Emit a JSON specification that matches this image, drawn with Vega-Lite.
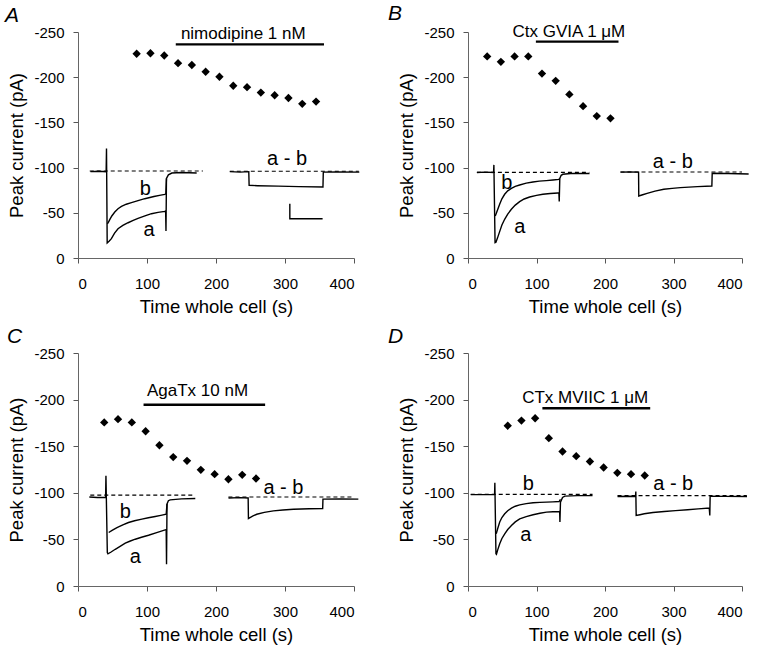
{
  "$schema": "https://vega.github.io/schema/vega-lite/v6.json",
  "background": "white",
  "padding": {"left": 5, "top": 2, "right": 5, "bottom": 2},
  "columns": 2,
  "spacing": {"row": 95, "column": 114},
  "bounds": "flush",
  "align": "each",
  "config": {
    "view": {"stroke": null},
    "font": "Liberation Sans",
    "axis": {"grid": false, "domainColor": "#666", "tickColor": "#555", "domainWidth": 1, "tickWidth": 1,
      "labelFont": "Liberation Sans", "labelFontSize": 15, "labelColor": "#000",
      "titleFont": "Liberation Sans", "titleFontSize": 18.5, "titleFontWeight": "normal", "titleColor": "#000"},
    "axisX": {"tickSize": 5, "labelPadding": 13, "titlePadding": 6},
    "axisY": {"tickSize": 5, "labelPadding": 9, "titlePadding": 7},
    "title": {"font": "Liberation Sans", "fontSize": 21, "fontStyle": "italic", "fontWeight": "normal", "anchor": "start", "frame": "group", "color": "#000", "offset": -1},
    "text": {"font": "Liberation Sans", "color": "#000"}
  },
  "concat": [
    {
      "width": 276, "height": 226,
      "title": {"text": "A", "dx": -73},
      "encoding": {
        "x": {"field": "t", "type": "quantitative", "scale": {"domain": [0, 400], "nice": false}, "axis": {"title": "Time whole cell (s)", "values": [0, 100, 200, 300, 400]}},
        "y": {"field": "I", "type": "quantitative", "scale": {"domain": [-250, 0], "reverse": true, "nice": false}, "axis": {"title": "Peak current (pA)", "values": [-250, -200, -150, -100, -50, 0], "labelExpr": "'' + datum.value"}}
      },
      "layer": [
        {"data": {"values": [
          {"t": 17, "I": -96.2, "s": "d1"}, {"t": 181, "I": -96.2, "s": "d1"},
          {"t": 220, "I": -96, "s": "d2"}, {"t": 407, "I": -96, "s": "d2"}]},
         "mark": {"type": "line", "color": "#000", "strokeWidth": 1.1, "strokeDash": [4, 3]},
         "encoding": {"detail": {"field": "s"}, "order": {"value": null}}},
        {"data": {"values": [
          {"s": "a", "t": 18, "I": -95.5}, {"s": "a", "t": 30, "I": -96}, {"s": "a", "t": 40.8, "I": -95.5}, {"s": "a", "t": 41.3, "I": -121}, {"s": "a", "t": 42.3, "I": -16.6}, {"s": "a", "t": 45, "I": -18.5}, {"s": "a", "t": 48.4, "I": -21.4}, {"s": "a", "t": 53, "I": -27.5}, {"s": "a", "t": 58, "I": -32.4}, {"s": "a", "t": 65, "I": -36}, {"s": "a", "t": 72.6, "I": -39}, {"s": "a", "t": 80, "I": -41.5}, {"s": "a", "t": 87, "I": -43.8}, {"s": "a", "t": 97, "I": -46.5}, {"s": "a", "t": 106.5, "I": -49}, {"s": "a", "t": 116, "I": -50.5}, {"s": "a", "t": 125.8, "I": -51.5}, {"s": "a", "t": 127, "I": -52}, {"s": "a", "t": 127.5, "I": -29.9}, {"s": "a", "t": 128.2, "I": -88}, {"s": "a", "t": 131, "I": -92}, {"s": "a", "t": 136, "I": -94}, {"s": "a", "t": 150, "I": -94.5}, {"s": "a", "t": 172, "I": -94},
          {"s": "b", "t": 42.5, "I": -37.9}, {"s": "b", "t": 44, "I": -39.5}, {"s": "b", "t": 46, "I": -42.4}, {"s": "b", "t": 49, "I": -46.5}, {"s": "b", "t": 53.3, "I": -50.9}, {"s": "b", "t": 58, "I": -54.5}, {"s": "b", "t": 63, "I": -57}, {"s": "b", "t": 70, "I": -59.5}, {"s": "b", "t": 77.5, "I": -61.2}, {"s": "b", "t": 87, "I": -63.5}, {"s": "b", "t": 96.8, "I": -65.6}, {"s": "b", "t": 110, "I": -68}, {"s": "b", "t": 120, "I": -69.5}, {"s": "b", "t": 125.8, "I": -70.4}, {"s": "b", "t": 127.3, "I": -71}, {"s": "b", "t": 128.2, "I": -88},
          {"s": "ab", "t": 220, "I": -95.5}, {"s": "ab", "t": 235, "I": -95}, {"s": "ab", "t": 247.5, "I": -95.5}, {"s": "ab", "t": 248, "I": -80.4}, {"s": "ab", "t": 260, "I": -80}, {"s": "ab", "t": 290, "I": -79.5}, {"s": "ab", "t": 320, "I": -79}, {"s": "ab", "t": 355, "I": -78.5}, {"s": "ab", "t": 355.5, "I": -95}, {"s": "ab", "t": 375, "I": -95.3}, {"s": "ab", "t": 407.7, "I": -95},
          {"s": "scale", "t": 307, "I": -60}, {"s": "scale", "t": 307, "I": -43.5}, {"s": "scale", "t": 354.5, "I": -43.5}]},
         "mark": {"type": "line", "color": "#000", "strokeWidth": 1.4},
         "encoding": {"detail": {"field": "s"}, "order": {"value": null}}},
        {"data": {"values": [{"t": 141.7, "t2": 356.5, "I": -236.4}]},
         "mark": {"type": "rule", "color": "#000", "strokeWidth": 2.3},
         "encoding": {"x2": {"field": "t2"}}},
        {"data": {"values": [
          {"t": 85, "I": -226}, {"t": 105, "I": -226.5}, {"t": 125, "I": -224}, {"t": 145, "I": -215.5}, {"t": 165, "I": -213.5}, {"t": 185, "I": -206}, {"t": 205, "I": -200.5}, {"t": 225, "I": -190.5}, {"t": 245, "I": -189}, {"t": 265, "I": -183}, {"t": 285, "I": -180}, {"t": 305, "I": -177}, {"t": 325, "I": -170.5}, {"t": 345, "I": -173}]},
         "mark": {"type": "point", "shape": "diamond", "filled": true, "size": 70, "color": "#000", "opacity": 1}},
        {"data": {"values": [{"t": 97.7, "I": -69.3, "txt": "b"}, {"t": 103, "I": -24.3, "txt": "a"}, {"t": 303, "I": -102.5, "txt": "a - b"}]},
         "mark": {"type": "text", "fontSize": 20, "align": "center", "baseline": "alphabetic"},
         "encoding": {"text": {"field": "txt"}}},
        {"data": {"values": [{"t": 239.5, "I": -242, "txt": "nimodipine 1 nM"}]},
         "mark": {"type": "text", "fontSize": 17, "align": "center", "baseline": "alphabetic"},
         "encoding": {"text": {"field": "txt"}}}
      ]
    },
    {
      "width": 274, "height": 226,
      "title": {"text": "B", "dx": -80},
      "encoding": {
        "x": {"field": "t", "type": "quantitative", "scale": {"domain": [0, 400], "nice": false}, "axis": {"title": "Time whole cell (s)", "values": [0, 100, 200, 300, 400]}},
        "y": {"field": "I", "type": "quantitative", "scale": {"domain": [-250, 0], "reverse": true, "nice": false}, "axis": {"title": "Peak current (pA)", "values": [-250, -200, -150, -100, -50, 0], "labelExpr": "'' + datum.value"}}
      },
      "layer": [
        {"data": {"values": [
          {"t": 13, "I": -94.7, "s": "d1"}, {"t": 177, "I": -94.7, "s": "d1"},
          {"t": 222.6, "I": -95.1, "s": "d2"}, {"t": 400, "I": -95.1, "s": "d2"}]},
         "mark": {"type": "line", "color": "#000", "strokeWidth": 1.1, "strokeDash": [4, 3]},
         "encoding": {"detail": {"field": "s"}, "order": {"value": null}}},
        {"data": {"values": [
          {"s": "a", "t": 13, "I": -94.5}, {"s": "a", "t": 25, "I": -95}, {"s": "a", "t": 37.3, "I": -94.5}, {"s": "a", "t": 37.8, "I": -103}, {"s": "a", "t": 39.5, "I": -17}, {"s": "a", "t": 40.8, "I": -17.5}, {"s": "a", "t": 43, "I": -22}, {"s": "a", "t": 46.2, "I": -29.2}, {"s": "a", "t": 49.5, "I": -36.5}, {"s": "a", "t": 53.5, "I": -42.8}, {"s": "a", "t": 58, "I": -48.5}, {"s": "a", "t": 63.3, "I": -53.9}, {"s": "a", "t": 69, "I": -58.5}, {"s": "a", "t": 75.4, "I": -62.4}, {"s": "a", "t": 82, "I": -65.3}, {"s": "a", "t": 90, "I": -67.5}, {"s": "a", "t": 100, "I": -69.3}, {"s": "a", "t": 109.3, "I": -70.5}, {"s": "a", "t": 120, "I": -71.3}, {"s": "a", "t": 131.2, "I": -71.9}, {"s": "a", "t": 132.7, "I": -72}, {"s": "a", "t": 133.2, "I": -62.4}, {"s": "a", "t": 134, "I": -88}, {"s": "a", "t": 136, "I": -91.5}, {"s": "a", "t": 138.5, "I": -92.6}, {"s": "a", "t": 150, "I": -93.5}, {"s": "a", "t": 165, "I": -93.5}, {"s": "a", "t": 177.4, "I": -93.5},
          {"s": "b", "t": 39.8, "I": -46.5}, {"s": "b", "t": 42, "I": -51}, {"s": "b", "t": 46.2, "I": -59.4}, {"s": "b", "t": 49.5, "I": -65.5}, {"s": "b", "t": 53.5, "I": -70.5}, {"s": "b", "t": 58, "I": -74.3}, {"s": "b", "t": 63.3, "I": -77.1}, {"s": "b", "t": 69, "I": -79.3}, {"s": "b", "t": 75.4, "I": -80.8}, {"s": "b", "t": 85, "I": -82.8}, {"s": "b", "t": 94.8, "I": -84.1}, {"s": "b", "t": 104, "I": -85}, {"s": "b", "t": 114.3, "I": -85.6}, {"s": "b", "t": 124, "I": -86.3}, {"s": "b", "t": 132.7, "I": -87}, {"s": "b", "t": 134, "I": -88},
          {"s": "ab", "t": 222.6, "I": -95}, {"s": "ab", "t": 235, "I": -95.3}, {"s": "ab", "t": 249, "I": -95}, {"s": "ab", "t": 249.3, "I": -68.6}, {"s": "ab", "t": 255, "I": -70}, {"s": "ab", "t": 261.5, "I": -71.5}, {"s": "ab", "t": 273, "I": -74}, {"s": "ab", "t": 285.8, "I": -76}, {"s": "ab", "t": 298, "I": -77}, {"s": "ab", "t": 310, "I": -77.8}, {"s": "ab", "t": 335, "I": -79}, {"s": "ab", "t": 356, "I": -79.6}, {"s": "ab", "t": 356.5, "I": -93.7}, {"s": "ab", "t": 380, "I": -93.5}, {"s": "ab", "t": 409.7, "I": -93}]},
         "mark": {"type": "line", "color": "#000", "strokeWidth": 1.4},
         "encoding": {"detail": {"field": "s"}, "order": {"value": null}}},
        {"data": {"values": [{"t": 99.1, "t2": 219.7, "I": -239.3}]},
         "mark": {"type": "rule", "color": "#000", "strokeWidth": 2.3},
         "encoding": {"x2": {"field": "t2"}}},
        {"data": {"values": [
          {"t": 28, "I": -223}, {"t": 48, "I": -217}, {"t": 68, "I": -223}, {"t": 88, "I": -223}, {"t": 108, "I": -204}, {"t": 128, "I": -196}, {"t": 148, "I": -181}, {"t": 168, "I": -168}, {"t": 188, "I": -157}, {"t": 208, "I": -154.5}]},
         "mark": {"type": "point", "shape": "diamond", "filled": true, "size": 70, "color": "#000", "opacity": 1}},
        {"data": {"values": [{"t": 56.6, "I": -76, "txt": "b"}, {"t": 75.8, "I": -28, "txt": "a"}, {"t": 298.9, "I": -99.9, "txt": "a - b"}]},
         "mark": {"type": "text", "fontSize": 20, "align": "center", "baseline": "alphabetic"},
         "encoding": {"text": {"field": "txt"}}},
        {"data": {"values": [{"t": 147.3, "I": -244.8, "txt": "Ctx GVIA 1 μM"}]},
         "mark": {"type": "text", "fontSize": 17, "align": "center", "baseline": "alphabetic"},
         "encoding": {"text": {"field": "txt"}}}
      ]
    },
    {
      "width": 276, "height": 233,
      "title": {"text": "C", "dx": -71},
      "encoding": {
        "x": {"field": "t", "type": "quantitative", "scale": {"domain": [0, 400], "nice": false}, "axis": {"title": "Time whole cell (s)", "values": [0, 100, 200, 300, 400]}},
        "y": {"field": "I", "type": "quantitative", "scale": {"domain": [-250, 0], "reverse": true, "nice": false}, "axis": {"title": "Peak current (pA)", "values": [-250, -200, -150, -100, -50, 0], "labelExpr": "'' + datum.value"}}
      },
      "layer": [
        {"data": {"values": [
          {"t": 17.8, "I": -97.5, "s": "d1"}, {"t": 170, "I": -97.5, "s": "d1"},
          {"t": 218, "I": -95.5, "s": "d2"}, {"t": 400, "I": -95.5, "s": "d2"}]},
         "mark": {"type": "line", "color": "#000", "strokeWidth": 1.1, "strokeDash": [4, 3]},
         "encoding": {"detail": {"field": "s"}, "order": {"value": null}}},
        {"data": {"values": [
          {"s": "a", "t": 16.4, "I": -95.5}, {"s": "a", "t": 28, "I": -95}, {"s": "a", "t": 40, "I": -95}, {"s": "a", "t": 40.5, "I": -118.2}, {"s": "a", "t": 42.5, "I": -35.9}, {"s": "a", "t": 43.4, "I": -34.5}, {"s": "a", "t": 48, "I": -36.5}, {"s": "a", "t": 54, "I": -39.4}, {"s": "a", "t": 61, "I": -42.5}, {"s": "a", "t": 68.5, "I": -45.9}, {"s": "a", "t": 75, "I": -48}, {"s": "a", "t": 83, "I": -50.2}, {"s": "a", "t": 92, "I": -52.3}, {"s": "a", "t": 102.2, "I": -54.5}, {"s": "a", "t": 114, "I": -57.3}, {"s": "a", "t": 126.4, "I": -60.2}, {"s": "a", "t": 127.8, "I": -60.5}, {"s": "a", "t": 128.3, "I": -23.3}, {"s": "a", "t": 129, "I": -88}, {"s": "a", "t": 131, "I": -91.5}, {"s": "a", "t": 133.6, "I": -92.4}, {"s": "a", "t": 150, "I": -93.5}, {"s": "a", "t": 170, "I": -93.9},
          {"s": "b", "t": 44.5, "I": -57.4}, {"s": "b", "t": 50, "I": -60}, {"s": "b", "t": 56.5, "I": -62.7}, {"s": "b", "t": 65, "I": -65.6}, {"s": "b", "t": 73.2, "I": -68.1}, {"s": "b", "t": 82, "I": -70}, {"s": "b", "t": 92.6, "I": -71.7}, {"s": "b", "t": 102, "I": -73.2}, {"s": "b", "t": 111.9, "I": -74.6}, {"s": "b", "t": 120, "I": -75.8}, {"s": "b", "t": 127.8, "I": -77}, {"s": "b", "t": 129, "I": -88},
          {"s": "ab", "t": 218.1, "I": -94.5}, {"s": "ab", "t": 235, "I": -94.8}, {"s": "ab", "t": 246.6, "I": -94.5}, {"s": "ab", "t": 247, "I": -72.4}, {"s": "ab", "t": 253, "I": -75}, {"s": "ab", "t": 259.1, "I": -77}, {"s": "ab", "t": 270, "I": -79}, {"s": "ab", "t": 283.2, "I": -80.6}, {"s": "ab", "t": 297, "I": -81.6}, {"s": "ab", "t": 312.2, "I": -82.4}, {"s": "ab", "t": 335, "I": -82.9}, {"s": "ab", "t": 354.6, "I": -83.2}, {"s": "ab", "t": 355, "I": -93.2}, {"s": "ab", "t": 380, "I": -93.5}, {"s": "ab", "t": 406.3, "I": -93.2}]},
         "mark": {"type": "line", "color": "#000", "strokeWidth": 1.4},
         "encoding": {"detail": {"field": "s"}, "order": {"value": null}}},
        {"data": {"values": [{"t": 95, "t2": 271.2, "I": -194.5}]},
         "mark": {"type": "rule", "color": "#000", "strokeWidth": 2.3},
         "encoding": {"x2": {"field": "t2"}}},
        {"data": {"values": [
          {"t": 38, "I": -175.5}, {"t": 58, "I": -179}, {"t": 78, "I": -175.5}, {"t": 98, "I": -166}, {"t": 118, "I": -151}, {"t": 138, "I": -138.3}, {"t": 158, "I": -134.3}, {"t": 178, "I": -124.6}, {"t": 198, "I": -120}, {"t": 218, "I": -114.6}, {"t": 238, "I": -119.3}, {"t": 258, "I": -115.3}]},
         "mark": {"type": "point", "shape": "diamond", "filled": true, "size": 70, "color": "#000", "opacity": 1}},
        {"data": {"values": [{"t": 68.5, "I": -73.4, "txt": "b"}, {"t": 83, "I": -25, "txt": "a"}, {"t": 297.7, "I": -98.5, "txt": "a - b"}]},
         "mark": {"type": "text", "fontSize": 20, "align": "center", "baseline": "alphabetic"},
         "encoding": {"text": {"field": "txt"}}},
        {"data": {"values": [{"t": 173.2, "I": -203.4, "txt": "AgaTx 10 nM"}]},
         "mark": {"type": "text", "fontSize": 17, "align": "center", "baseline": "alphabetic"},
         "encoding": {"text": {"field": "txt"}}}
      ]
    },
    {
      "width": 274, "height": 233,
      "title": {"text": "D", "dx": -80},
      "encoding": {
        "x": {"field": "t", "type": "quantitative", "scale": {"domain": [0, 400], "nice": false}, "axis": {"title": "Time whole cell (s)", "values": [0, 100, 200, 300, 400]}},
        "y": {"field": "I", "type": "quantitative", "scale": {"domain": [-250, 0], "reverse": true, "nice": false}, "axis": {"title": "Peak current (pA)", "values": [-250, -200, -150, -100, -50, 0], "labelExpr": "'' + datum.value"}}
      },
      "layer": [
        {"data": {"values": [
          {"t": 4, "I": -98.3, "s": "d1"}, {"t": 181.8, "I": -98.3, "s": "d1"},
          {"t": 218.3, "I": -97, "s": "d2"}, {"t": 407, "I": -97, "s": "d2"}]},
         "mark": {"type": "line", "color": "#000", "strokeWidth": 1.1, "strokeDash": [4, 3]},
         "encoding": {"detail": {"field": "s"}, "order": {"value": null}}},
        {"data": {"values": [
          {"s": "a", "t": 4, "I": -98}, {"s": "a", "t": 20, "I": -98}, {"s": "a", "t": 38.8, "I": -98}, {"s": "a", "t": 39.2, "I": -110.7}, {"s": "a", "t": 40.8, "I": -34.6}, {"s": "a", "t": 41.5, "I": -34}, {"s": "a", "t": 43.5, "I": -39}, {"s": "a", "t": 46.3, "I": -45.3}, {"s": "a", "t": 49.5, "I": -51}, {"s": "a", "t": 53.6, "I": -56}, {"s": "a", "t": 58, "I": -60.6}, {"s": "a", "t": 63.4, "I": -64.9}, {"s": "a", "t": 69, "I": -68.8}, {"s": "a", "t": 75.5, "I": -72.1}, {"s": "a", "t": 85, "I": -74.5}, {"s": "a", "t": 95, "I": -76.4}, {"s": "a", "t": 105, "I": -78}, {"s": "a", "t": 114.6, "I": -79.3}, {"s": "a", "t": 124, "I": -79.7}, {"s": "a", "t": 133, "I": -79.9}, {"s": "a", "t": 133.8, "I": -80}, {"s": "a", "t": 134.2, "I": -68.6}, {"s": "a", "t": 135, "I": -90}, {"s": "a", "t": 138, "I": -95}, {"s": "a", "t": 141.3, "I": -96.4}, {"s": "a", "t": 160, "I": -97}, {"s": "a", "t": 181.8, "I": -97},
          {"s": "b", "t": 41.2, "I": -56}, {"s": "b", "t": 43.5, "I": -62}, {"s": "b", "t": 46.3, "I": -68.6}, {"s": "b", "t": 49.5, "I": -73.5}, {"s": "b", "t": 53.6, "I": -77.5}, {"s": "b", "t": 58, "I": -80.8}, {"s": "b", "t": 63.4, "I": -83.6}, {"s": "b", "t": 69, "I": -85.6}, {"s": "b", "t": 75.5, "I": -87.1}, {"s": "b", "t": 85, "I": -88.4}, {"s": "b", "t": 95, "I": -89.3}, {"s": "b", "t": 105, "I": -89.7}, {"s": "b", "t": 114.6, "I": -90}, {"s": "b", "t": 124, "I": -90.3}, {"s": "b", "t": 133, "I": -90.6}, {"s": "b", "t": 135, "I": -93},
          {"s": "ab", "t": 218.3, "I": -96}, {"s": "ab", "t": 235, "I": -96.3}, {"s": "ab", "t": 244.5, "I": -96}, {"s": "ab", "t": 245, "I": -101.4}, {"s": "ab", "t": 245.5, "I": -75.7}, {"s": "ab", "t": 251, "I": -76.5}, {"s": "ab", "t": 257.3, "I": -77.5}, {"s": "ab", "t": 270, "I": -78.8}, {"s": "ab", "t": 286.5, "I": -80}, {"s": "ab", "t": 303, "I": -80.9}, {"s": "ab", "t": 320.6, "I": -81.8}, {"s": "ab", "t": 336, "I": -82.7}, {"s": "ab", "t": 352.2, "I": -83.6}, {"s": "ab", "t": 353, "I": -75.7}, {"s": "ab", "t": 353.5, "I": -96.4}, {"s": "ab", "t": 375, "I": -96.2}, {"s": "ab", "t": 407.3, "I": -96}]},
         "mark": {"type": "line", "color": "#000", "strokeWidth": 1.4},
         "encoding": {"detail": {"field": "s"}, "order": {"value": null}}},
        {"data": {"values": [{"t": 108.6, "t2": 266, "I": -190.7}]},
         "mark": {"type": "rule", "color": "#000", "strokeWidth": 2.3},
         "encoding": {"x2": {"field": "t2"}}},
        {"data": {"values": [
          {"t": 58, "I": -172}, {"t": 78, "I": -177.5}, {"t": 98, "I": -180}, {"t": 118, "I": -158.6}, {"t": 138, "I": -144.3}, {"t": 158, "I": -139.3}, {"t": 178, "I": -133.6}, {"t": 198, "I": -127.1}, {"t": 218, "I": -121.4}, {"t": 238, "I": -120}, {"t": 258, "I": -118.6}]},
         "mark": {"type": "point", "shape": "diamond", "filled": true, "size": 70, "color": "#000", "opacity": 1}},
        {"data": {"values": [{"t": 88.2, "I": -102.5, "txt": "b"}, {"t": 84.3, "I": -47.9, "txt": "a"}, {"t": 299.6, "I": -102.5, "txt": "a - b"}]},
         "mark": {"type": "text", "fontSize": 20, "align": "center", "baseline": "alphabetic"},
         "encoding": {"text": {"field": "txt"}}},
        {"data": {"values": [{"t": 171, "I": -196.4, "txt": "CTx MVIIC 1 μM"}]},
         "mark": {"type": "text", "fontSize": 17, "align": "center", "baseline": "alphabetic"},
         "encoding": {"text": {"field": "txt"}}}
      ]
    }
  ]
}
